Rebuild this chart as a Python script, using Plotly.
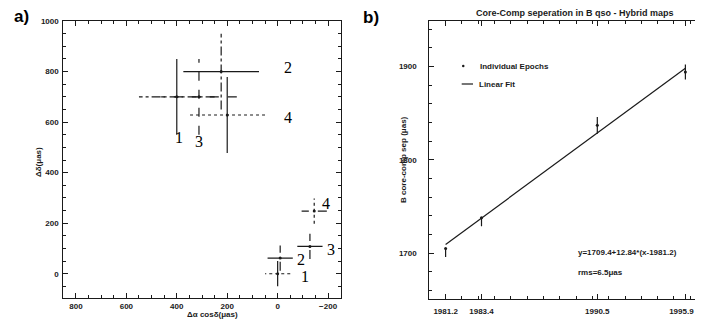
import plotly.graph_objects as go

# ---------------- Panel a data ----------------
epoch_labels = ["1", "2", "3", "4"]
upper_x = [400, 224, 312, 200]
upper_y = [700, 800, 700, 628]
upper_err = [150, 150, 150, 150]
lower_x = [0, -10, -128, -145]
lower_y = [0, 62, 108, 248]
lower_err = [50, 50, 50, 50]
upper_lab_x = [393, -40, 312, -40]
upper_lab_y = [538, 815, 524, 617]
lower_lab_x = [-110, -93, -211, -192]
lower_lab_y = [-11, 58, 95, 277]
# dash style of horizontal / vertical bars per epoch
upper_hdash = ["dashdot", "solid", "dash", "dot"]
upper_vdash = ["solid", "dashdot", "dash", "solid"]
lower_hdash = ["dot", "solid", "solid", "dash"]
lower_vdash = ["solid", "dash", "dash", "dot"]

# ---------------- Panel b data ----------------
epochs = [1981.2, 1983.4, 1990.5, 1995.9]
epoch_ticktext = ["1981.2", "1983.4", "1990.5", "1995.9\u2003"]
sep = [1705, 1738, 1837, 1894]
sep_err = [9, 9, 9, 8]
sep_dash = ["dash", "dash", "solid", "solid"]
fit_x = [1981.2, 1995.9]
fit_y = [1709.4, 1898.1]

# The page body has an 8px margin, so the figure is sized to the visible window
OFF = 8
W, H = 703 - OFF, 323 - OFF
def px(X):
    return (X - OFF) / W
def py(Y):
    return 1 - (Y - OFF) / H

INK = "#1a1a1a"
fig = go.Figure()

def add_cross(xs, ys, errs, hd, vd, xa, ya):
    for x, y, e, h, v in zip(xs, ys, errs, hd, vd):
        fig.add_trace(go.Scatter(x=[x - e, x + e], y=[y, y], mode="lines",
                                 line=dict(color=INK, width=1.2, dash=h),
                                 xaxis=xa, yaxis=ya, showlegend=False, hoverinfo="skip"))
        fig.add_trace(go.Scatter(x=[x, x], y=[y - e, y + e], mode="lines",
                                 line=dict(color=INK, width=1.2, dash=v),
                                 xaxis=xa, yaxis=ya, showlegend=False, hoverinfo="skip"))
    fig.add_trace(go.Scatter(x=xs, y=ys, mode="markers",
                             marker=dict(color=INK, size=3),
                             xaxis=xa, yaxis=ya, showlegend=False, hoverinfo="skip"))

add_cross(upper_x, upper_y, upper_err, upper_hdash, upper_vdash, "x", "y")
add_cross(lower_x, lower_y, lower_err, lower_hdash, lower_vdash, "x", "y")

lab_font = dict(family="Liberation Serif", size=16, color="#000")
annotations = []
for lab, lx, ly in zip(epoch_labels, upper_lab_x, upper_lab_y):
    annotations.append(dict(x=lx, y=ly, xref="x", yref="y", text=lab, showarrow=False, font=lab_font))
for lab, lx, ly in zip(epoch_labels, lower_lab_x, lower_lab_y):
    annotations.append(dict(x=lx, y=ly, xref="x", yref="y", text=lab, showarrow=False, font=lab_font))

# panel b
fig.add_trace(go.Scatter(x=fit_x, y=fit_y, mode="lines", line=dict(color=INK, width=1.2),
                         xaxis="x2", yaxis="y2", showlegend=False, hoverinfo="skip"))
for x, y, e, d in zip(epochs, sep, sep_err, sep_dash):
    fig.add_trace(go.Scatter(x=[x, x], y=[y - e, y + e], mode="lines",
                             line=dict(color=INK, width=1.2, dash=d),
                             xaxis="x2", yaxis="y2", showlegend=False, hoverinfo="skip"))
fig.add_trace(go.Scatter(x=epochs, y=sep, mode="markers", marker=dict(color=INK, size=3),
                         xaxis="x2", yaxis="y2", showlegend=False, hoverinfo="skip"))

small = dict(family="Liberation Sans", size=8, color=INK, weight="bold")
annotations += [
    dict(x=px(478), y=py(66), xref="paper", yref="paper", text="Individual Epochs",
         showarrow=False, xanchor="left", yanchor="middle", font=small),
    dict(x=px(476.7), y=py(84), xref="paper", yref="paper", text="Linear Fit",
         showarrow=False, xanchor="left", yanchor="middle", font=small),
    dict(x=px(576), y=py(252), xref="paper", yref="paper",
         text="y=1709.4+12.84*(x-1981.2)", showarrow=False, xanchor="left",
         yanchor="middle", font=small),
    dict(x=px(576), y=py(272), xref="paper", yref="paper",
         text="rms=6.5μas", showarrow=False, xanchor="left", yanchor="middle", font=small),
    dict(x=px(575), y=py(13), xref="paper", yref="paper",
         text="Core-Comp seperation in B qso - Hybrid maps", showarrow=False,
         xanchor="center", yanchor="middle",
         font=dict(family="Liberation Sans", size=9, color=INK, weight="bold")),
    dict(x=px(22), y=py(16), xref="paper", yref="paper", text="a)", showarrow=False,
         xanchor="center", yanchor="middle",
         font=dict(family="Liberation Sans", size=17, color="#000", weight="bold")),
    dict(x=px(371), y=py(17), xref="paper", yref="paper", text="b)", showarrow=False,
         xanchor="center", yanchor="middle",
         font=dict(family="Liberation Sans", size=17, color="#000", weight="bold")),
    dict(x=px(212), y=py(314), xref="paper", yref="paper", text="Δα cosδ(μas)",
         showarrow=False, xanchor="center", yanchor="middle", font=small),
    dict(x=px(38), y=py(162), xref="paper", yref="paper", text="Δδ(μas)",
         showarrow=False, xanchor="center", yanchor="middle", textangle=-90, font=small),
    dict(x=px(403), y=py(160), xref="paper", yref="paper", text="B core-comp sep (μas)",
         showarrow=False, xanchor="center", yanchor="middle", textangle=-90, font=small),
]

shapes = [
    dict(type="line", xref="paper", yref="paper", x0=px(461.7), x1=px(473), y0=py(84), y1=py(84),
         line=dict(color=INK, width=1.2)),
    dict(type="circle", xref="paper", yref="paper", x0=px(462), x1=px(464.5),
         y0=py(67.2), y1=py(64.8), fillcolor=INK, line=dict(width=0)),
]

axis_common = dict(showline=True, linecolor=INK, linewidth=1, mirror="ticks", ticks="inside",
                   tickcolor=INK, ticklen=5, showgrid=False, zeroline=False,
                   tickfont=small, automargin=False, ticklabeloverflow="allow")

fig.update_layout(
    width=W, height=H, margin=dict(l=0, r=0, t=0, b=0, autoexpand=False),
    paper_bgcolor="white", plot_bgcolor="white",
    xaxis=dict(domain=[px(63.3), px(340.7)], range=[850, -250], anchor="y",
               tickmode="linear", tick0=0, dtick=200, ticklabelstandoff=0,
               minor=dict(ticks="inside", dtick=50, tick0=0, ticklen=3, tickcolor=INK),
               **axis_common),
    yaxis=dict(domain=[py(298), py(21)], range=[-96, 1000], anchor="x",
               tickmode="linear", tick0=0, dtick=200, ticklabelstandoff=2,
               minor=dict(ticks="inside", dtick=50, tick0=0, ticklen=3, tickcolor=INK),
               **axis_common),
    xaxis2=dict(domain=[px(429.3), px(701.7)], range=[1980.2, 1996.9], anchor="y2",
                tickmode="array", tickvals=epochs, ticktext=epoch_ticktext, ticklabelstandoff=4,
                minor=dict(ticks="inside", dtick=1, tick0=1981.2, ticklen=3, tickcolor=INK),
                **axis_common),
    yaxis2=dict(domain=[py(299), py(20.7)], range=[1651, 1949], anchor="x2",
                tickmode="linear", tick0=1700, dtick=100, ticklabelstandoff=10,
                minor=dict(ticks="inside", dtick=20, tick0=1700, ticklen=3, tickcolor=INK),
                **axis_common),
    annotations=annotations, shapes=shapes,
)

fig.write_html("out.html")
